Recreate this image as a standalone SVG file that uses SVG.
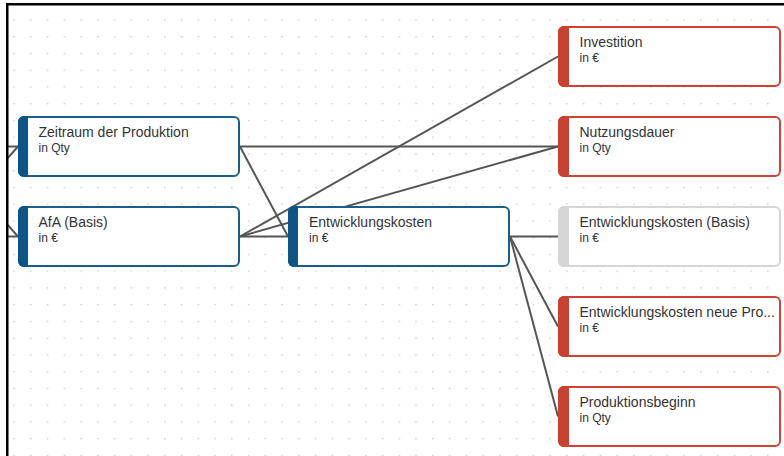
<svg xmlns="http://www.w3.org/2000/svg" width="784" height="456" viewBox="0 0 784 456">
  <defs>
    <pattern id="dots" x="13.3" y="19.3" width="16.75" height="16.75" patternUnits="userSpaceOnUse">
      <circle cx="0.8" cy="0.8" r="0.8" fill="#c4c4c4"/>
    </pattern>
    <clipPath id="frame"><rect x="8" y="5" width="776" height="451"/></clipPath>
    <style>
      .box { fill: #ffffff; stroke-width: 2; }
      .blue .box { stroke: #1b5e8c; }
      .blue .bar { fill: #0b5687; }
      .red .box { stroke: #cc4333; }
      .red .bar { fill: #c84131; }
      .gray .box { stroke: #d5d5d5; }
      .gray .bar { fill: #d6d6d6; }
      .title { font-family: "Liberation Sans", Arial, sans-serif; font-size: 14px; fill: #333333; }
      .sub { font-family: "Liberation Sans", Arial, sans-serif; font-size: 12px; fill: #333333; }
      .conn line { stroke: #555555; stroke-width: 2; fill: none; }
    </style>
  </defs>
  <rect x="0" y="0" width="784" height="456" fill="#ffffff"/>
  <g clip-path="url(#frame)">
    <rect x="8" y="5" width="776" height="451" fill="url(#dots)"/>
    <g id="connectors" class="conn">
      <line x1="0" y1="146.5" x2="18" y2="146.5"/>
      <line x1="0" y1="166.8" x2="18" y2="146.5"/>
      <line x1="0" y1="236.5" x2="18" y2="236.5"/>
      <line x1="0" y1="216.2" x2="18" y2="236.5"/>
      <line x1="240" y1="146.5" x2="558" y2="146.5"/>
      <line x1="240" y1="146.5" x2="288" y2="236.5"/>
      <line x1="240" y1="236.5" x2="558" y2="56.5"/>
      <line x1="240" y1="236.5" x2="558" y2="146.5"/>
      <line x1="240" y1="236.5" x2="288" y2="236.5"/>
      <line x1="510" y1="236.5" x2="558" y2="236.5"/>
      <line x1="510" y1="236.5" x2="558" y2="326.5"/>
      <line x1="510" y1="236.5" x2="558" y2="416.5"/>
    </g>
    <g id="node-zeitraum" class="blue">
      <rect class="box" x="19" y="117" width="220" height="59" rx="5"/>
      <path class="bar" d="M24 116 H28 V177 H24 A6 6 0 0 1 18 171 V122 A6 6 0 0 1 24 116 Z"/>
      <text class="title" x="38.5" y="137">Zeitraum der Produktion</text>
      <text class="sub" x="38.5" y="152">in Qty</text>
    </g>
    <g id="node-afa" class="blue">
      <rect class="box" x="19" y="207" width="220" height="59" rx="5"/>
      <path class="bar" d="M24 206 H28 V267 H24 A6 6 0 0 1 18 261 V212 A6 6 0 0 1 24 206 Z"/>
      <text class="title" x="38.5" y="227">AfA (Basis)</text>
      <text class="sub" x="38.5" y="242">in €</text>
    </g>
    <g id="node-entwicklungskosten" class="blue">
      <rect class="box" x="289" y="207" width="220" height="59" rx="5"/>
      <path class="bar" d="M294 206 H298 V267 H294 A6 6 0 0 1 288 261 V212 A6 6 0 0 1 294 206 Z"/>
      <text class="title" x="309" y="227">Entwicklungskosten</text>
      <text class="sub" x="309" y="242">in €</text>
    </g>
    <g id="node-investition" class="red">
      <rect class="box" x="559" y="27" width="221" height="59" rx="5"/>
      <path class="bar" d="M564 26 H569 V87 H564 A6 6 0 0 1 558 81 V32 A6 6 0 0 1 564 26 Z"/>
      <text class="title" x="579.5" y="47">Investition</text>
      <text class="sub" x="579.5" y="62">in €</text>
    </g>
    <g id="node-nutzungsdauer" class="red">
      <rect class="box" x="559" y="117" width="221" height="59" rx="5"/>
      <path class="bar" d="M564 116 H569 V177 H564 A6 6 0 0 1 558 171 V122 A6 6 0 0 1 564 116 Z"/>
      <text class="title" x="579.5" y="137">Nutzungsdauer</text>
      <text class="sub" x="579.5" y="152">in Qty</text>
    </g>
    <g id="node-entwicklungskosten-basis" class="gray">
      <rect class="box" x="559" y="207" width="221" height="59" rx="5"/>
      <path class="bar" d="M564 206 H569 V267 H564 A6 6 0 0 1 558 261 V212 A6 6 0 0 1 564 206 Z"/>
      <text class="title" x="579.5" y="227">Entwicklungskosten (Basis)</text>
      <text class="sub" x="579.5" y="242">in €</text>
    </g>
    <g id="node-entwicklungskosten-neue" class="red">
      <rect class="box" x="559" y="297" width="221" height="59" rx="5"/>
      <path class="bar" d="M564 296 H569 V357 H564 A6 6 0 0 1 558 351 V302 A6 6 0 0 1 564 296 Z"/>
      <text class="title" x="579.5" y="317">Entwicklungskosten neue Pro...</text>
      <text class="sub" x="579.5" y="332">in €</text>
    </g>
    <g id="node-produktionsbeginn" class="red">
      <rect class="box" x="559" y="387" width="221" height="59" rx="5"/>
      <path class="bar" d="M564 386 H569 V447 H564 A6 6 0 0 1 558 441 V392 A6 6 0 0 1 564 386 Z"/>
      <text class="title" x="579.5" y="407">Produktionsbeginn</text>
      <text class="sub" x="579.5" y="422">in Qty</text>
    </g>
  </g>
  <g id="frame-border" fill="#000000">
    <rect x="6" y="3" width="778" height="2.5"/>
    <rect x="6" y="3" width="2.5" height="453"/>
  </g>
</svg>
